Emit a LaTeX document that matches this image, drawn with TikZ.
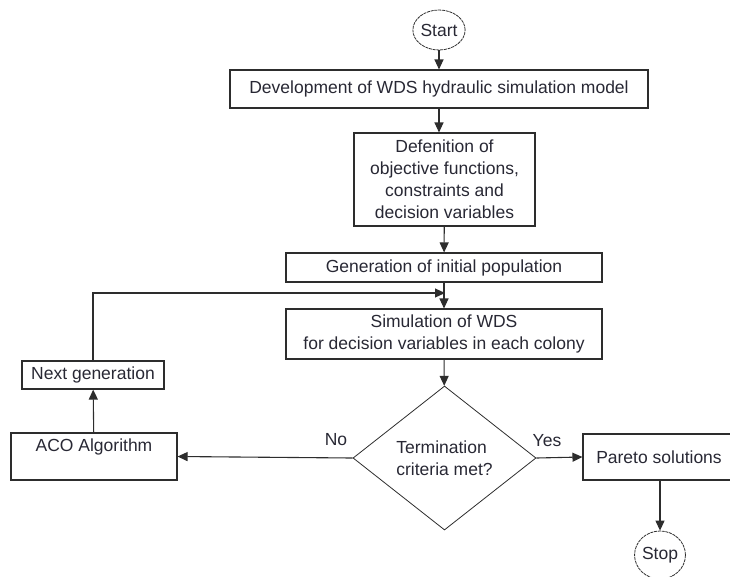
\documentclass[tikz,border=0pt]{standalone}
\usepackage{fontspec}
\setmainfont{Liberation Sans}
\usepackage{tikz}
\usetikzlibrary{arrows.meta,shapes.geometric}

\definecolor{linegray}{RGB}{45,45,45}
\definecolor{textgray}{RGB}{40,40,52}

\begin{document}
\begin{tikzpicture}[x=1pt,y=-1pt,
    font=\fontsize{17.5}{22}\selectfont,
    every node/.style={text=textgray},
    box/.style={draw=linegray, line width=1.1pt, rectangle, inner sep=0pt, align=center},
    term/.style={draw=linegray, line width=0.8pt, dash pattern=on 3pt off 0.8pt, ellipse, inner sep=0pt},
    decide/.style={draw=linegray, line width=0.8pt, diamond, inner sep=0pt, align=left},
    arr/.style={draw=linegray, line width=1.1pt, -{Triangle[length=10pt,width=9pt]}}]
  \useasboundingbox (0,0) rectangle (730,576);
  \clip (0,0) rectangle (730,576);

  \node[term, minimum width=48pt, minimum height=40pt] (start) at (439,30) {Start};
  \node[box, minimum width=418pt, minimum height=38pt] (dev) at (439,89)
    {Development of WDS hydraulic simulation model};
  \node[box, minimum width=181pt, minimum height=93pt] (def) at (444.5,179.5)
    {Defenition of\\objective functions,\\constraints and\\decision variables};
  \node[box, minimum width=316pt, minimum height=29pt] (gen) at (444,267.5)
    {Generation of initial population};
  \node[box, minimum width=316pt, minimum height=50pt] (sim) at (444,334)
    {Simulation of WDS\\for decision variables in each colony};
  \node[decide, minimum width=183pt, minimum height=144pt] (crit) at (444.5,458)
    {Termination\\criteria met?};
  \node[box, minimum width=152pt, minimum height=46pt] (pareto) at (659,457) {Pareto solutions};
  \node[term, minimum width=47pt, minimum height=48pt] (stop) at (660,555) {Stop};
  \node[box, minimum width=166pt, minimum height=47pt] (aco) at (94,456.5) {ACO Algorithm\\\mbox{}};
  \node[box, minimum width=142pt, minimum height=28pt] (next) at (93,375) {Next generation};

  \node (yes) at (547,441) {Yes};
  \node (no) at (336,440) {No};

  \coordinate (merge) at (445,293); % loop joins here

  \draw[arr] (start) -- (dev);
  \draw[arr] (dev.south) -- (dev.south |- def.north);
  \draw[arr] (def) -- (gen);
  \draw[arr] (gen) -- (sim);
  \draw[arr] (next.north) |- (merge);
  \draw[arr] (sim) -- (crit);
  \draw[arr] (crit.east) -- (pareto.west);
  \draw[arr] (crit.west) -- (aco.east);
  \draw[arr] (aco) -- (next);
  \draw[arr] (pareto.south -| stop) -- (stop);
\end{tikzpicture}
\end{document}
